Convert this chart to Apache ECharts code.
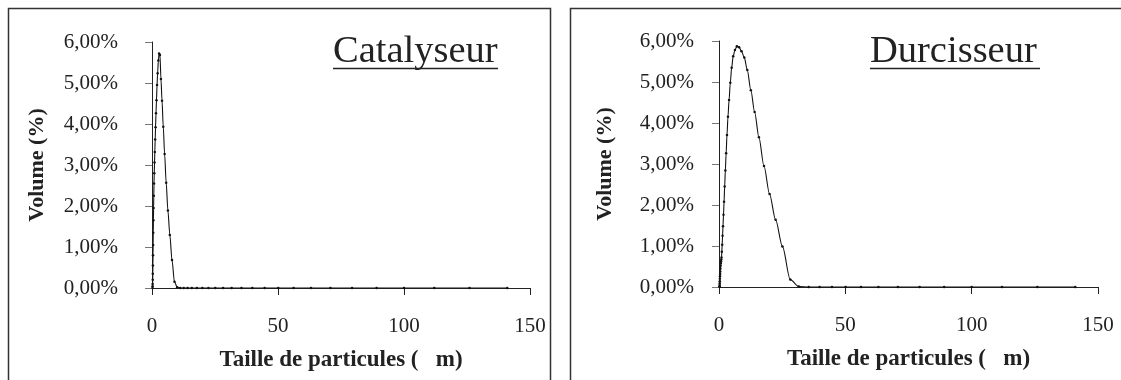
<!DOCTYPE html>
<html><head><meta charset="utf-8">
<script src="https://cdn.jsdelivr.net/npm/echarts@6/dist/echarts.min.js"></script>
<style>html,body{margin:0;padding:0;background:#fff}#c{width:1121px;height:380px}</style>
</head><body><div id="c"></div>
<script>
const sizes = [0.200,0.224,0.251,0.282,0.316,0.355,0.398,0.447,0.501,0.562,0.631,0.708,0.794,0.891,
  1.00,1.12,1.26,1.41,1.58,1.78,2.00,2.24,2.51,2.82,3.16,3.55,3.98,4.47,5.01,5.62,6.31,7.08,7.94,8.91,
  10.0,11.2,12.6,14.1,15.8,17.8,20.0,22.4,25.1,28.2,31.6,35.5,39.8,44.7,50.1,56.2,63.1,70.8,79.4,89.1,
  100,112,126,141];
const catalyseur = [0,0.04,0.1,0.2,0.35,0.55,0.8,1.05,1.35,1.65,1.95,2.25,2.55,2.8,
  3.06,3.32,3.62,3.92,4.26,4.58,4.95,5.24,5.55,5.72,5.68,5.1,4.57,3.93,3.27,2.57,1.89,1.29,0.68,0.15,
  0.02,0,0,0,0,0,0,0,0,0,0,0,0,0,0,0,0,0,0,0,
  0,0,0,0];
const durcisseur = [0,0.02,0.05,0.09,0.14,0.2,0.26,0.32,0.38,0.45,0.52,0.58,0.63,0.67,
  0.72,0.86,1.03,1.25,1.48,1.76,2.08,2.45,2.84,3.26,3.71,4.15,4.56,4.98,5.35,5.63,5.78,5.87,5.85,5.75,
  5.6,5.29,4.8,4.27,3.65,2.95,2.27,1.64,0.99,0.18,0.01,0,0,0,0,0,0,0,0,0,
  0,0,0,0];
const titles = ['Catalyseur','Durcisseur'];
const xTicks = [0,50,100,150];
const yTicks = [0,1,2,3,4,5,6];
const xName = 'Taille de particules (   m)';
const yName = 'Volume (%)';

const font = 'Liberation Serif';
const chart = echarts.init(document.getElementById('c'), null, {renderer:'canvas'});
const grids = [
  {left:152, right:1121-530, top:42, bottom:380-288},
  {left:719, right:1121-1098, top:41, bottom:380-287}
];
function xAxis(i){return {gridIndex:i,type:'value',min:xTicks[0],max:xTicks[xTicks.length-1],interval:50,
  name:xName,nameLocation:'middle',nameGap:61,
  nameTextStyle:{fontFamily:font,fontWeight:'bold',fontSize:23,color:'#222'},
  axisLine:{onZero:false,lineStyle:{color:'#222',width:1}},
  axisTick:{inside:false,length:7,lineStyle:{color:'#222'}},
  axisLabel:{fontFamily:font,fontSize:21,color:'#222',margin:28},
  splitLine:{show:false}};}
function yAxis(i,labelMargin,gap){return {gridIndex:i,type:'value',min:yTicks[0],max:yTicks[yTicks.length-1],interval:1,
  name:yName,nameLocation:'middle',nameGap:gap,nameRotate:90,
  nameTextStyle:{fontFamily:font,fontWeight:'bold',fontSize:22,color:'#222'},
  axisLine:{show:true,lineStyle:{color:'#222',width:1}},
  axisTick:{show:true,length:7,lineStyle:{color:'#777'}},
  axisLabel:{fontFamily:font,fontSize:21,color:'#222',margin:labelMargin,
    formatter:v=>v.toFixed(2).replace('.',',')+'%'},
  splitLine:{show:false}};}
function ser(i,vals){return {type:'line',xAxisIndex:i,yAxisIndex:i,
  data:sizes.map((s,k)=>[s,vals[k]]),smooth:0.3,smoothMonotone:'x',
  symbol:'circle',symbolSize:2.5,showSymbol:true,
  itemStyle:{color:'#111'},lineStyle:{color:'#111',width:1.1},animation:false};}
chart.setOption({
  animation:false,
  grid:grids,
  xAxis:[xAxis(0),xAxis(1)],
  yAxis:[yAxis(0,34,104),yAxis(1,25,103)],
  series:[ser(0,catalyseur),ser(1,durcisseur)],
  graphic:[
    {type:'rect',shape:{x:8.5,y:8.5,width:542,height:400},style:{fill:'none',stroke:'#333',lineWidth:1.5}},
    {type:'rect',shape:{x:570.5,y:8.5,width:560,height:400},style:{fill:'none',stroke:'#333',lineWidth:1.5}},
    {type:'text',x:333,y:32,style:{text:titles[0],font:'38.5px "Liberation Serif"',fill:'#222'}},
    {type:'line',shape:{x1:333,y1:68.5,x2:498,y2:68.5},style:{stroke:'#222',lineWidth:1.5}},
    {type:'text',x:870,y:32,style:{text:titles[1],font:'38.5px "Liberation Serif"',fill:'#222'}},
    {type:'line',shape:{x1:870,y1:68.5,x2:1040,y2:68.5},style:{stroke:'#222',lineWidth:1.5}}
  ]
});
</script></body></html>
